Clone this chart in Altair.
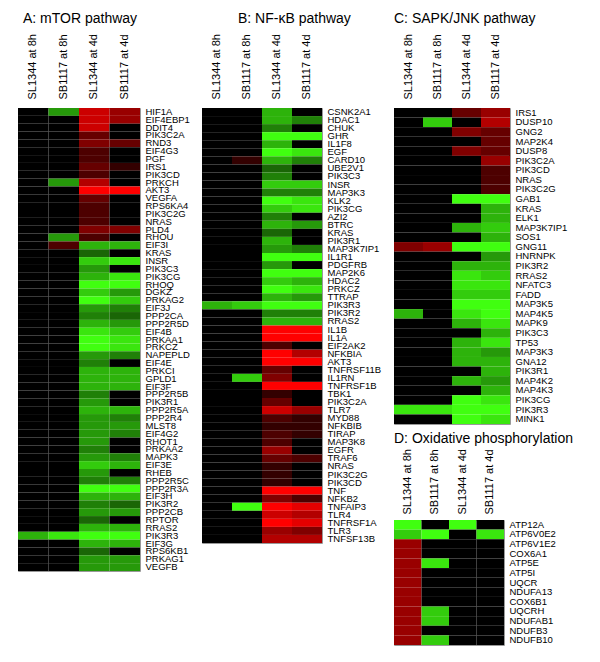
import altair as alt
import pandas as pd

samples = ["SL1344 at 8h", "SB1117 at 8h", "SL1344 at 4d", "SB1117 at 4d"]

# ---------------- Panel A: mTOR pathway ----------------
a_genes = ["HIF1A", "EIF4EBP1", "DDIT4", "PIK3C2A", "RND3", "EIF4G3", "PGF", "IRS1", "PIK3CD",
           "PRKCH", "AKT3", "VEGFA", "RPS6KA4", "PIK3C2G", "NRAS", "PLD4", "RHOU", "EIF3I",
           "KRAS", "INSR", "PIK3C3", "PIK3CG", "RHOQ", "DGKZ", "PRKAG2", "EIF3J", "PPP2CA",
           "PPP2R5D", "EIF4B", "PRKAA1", "PRKCZ", "NAPEPLD", "EIF4E", "PRKCI", "GPLD1", "EIF3F",
           "PPP2R5B", "PIK3R1", "PPP2R5A", "PPP2R4", "MLST8", "EIF4G2", "RHOT1", "PRKAA2",
           "MAPK3", "EIF3E", "RHEB", "PPP2R5C", "PPP2R3A", "EIF3H", "PIK3R2", "PPP2CB", "RPTOR",
           "RRAS2", "PIK3R3", "EIF3G", "RPS6KB1", "PRKAG1", "VEGFB"]
a_sl_8h = [0] * 54 + [-3.5] + [0] * 4
a_sb_8h = [-3, 0, 0, 0, 0, 0, 0, 0, 0, -3, 0, 0, 0, 0, 0, 0, -3, 1.5] + [0] * 36 + [-4.5] + [0] * 4
a_sl_4d = [4, 4, 4, 2, 2.5, 1.5, 1.5, 2, 1.5, 3.5, 5, 2, 1.5, 1.5, 1.5, 2.5, 1.5, -3.5,
           -2, -4, -3, -3.5, -5, -4, -5, -3, -2.5, -3.5, -4.5, -5, -5, -3, -2.5, -3.5, -3.5, -3.5,
           -2.5, -3, -3.5, -3, -3, -3, -3, -2.5, -3, -4, -3, -2.5, -5, -3.5, -2.5, -3, -2,
           -3.5, -5, -3.5, -2, -3, -3]
a_sb_4d = [3, 3, 0, 0, 2, 0, 0, 1, 0, 0, 5, 0, 0, 0, 0, 2.5, 0, -3.5,
           0, -4.5, 0, -4.5, -5, -3, -4, -2.5, -2, -3, -4, -4.5, -4.5, -2.5, 0, -3.5, -3.5, -3.5,
           0, 0, -3.5, -2.5, -3, -2.5, 0, 0, -2.5, -3.5, 0, -2.5, -5, -3.5, -2, -3, 0,
           -3.5, -5, -3.5, 0, -3, -3]

# ---------------- Panel B: NF-kB pathway ----------------
b_genes = ["CSNK2A1", "HDAC1", "CHUK", "GHR", "IL1F8", "EGF", "CARD10", "UBE2V1", "PIK3C3",
           "INSR", "MAP3K3", "KLK2", "PIK3CG", "AZI2", "BTRC", "KRAS", "PIK3R1", "MAP3K7IP1",
           "IL1R1", "PDGFRB", "MAP2K6", "HDAC2", "PRKCZ", "TTRAP", "PIK3R3", "PIK3R2", "RRAS2",
           "IL1B", "IL1A", "EIF2AK2", "NFKBIA", "AKT3", "TNFRSF11B", "IL1RN", "TNFRSF1B", "TBK1",
           "PIK3C2A", "TLR7", "MYD88", "NFKBIB", "TIRAP", "MAP3K8", "EGFR", "TRAF6", "NRAS",
           "PIK3C2G", "PIK3CD", "TNF", "NFKB2", "TNFAIP3", "TLR4", "TNFRSF1A", "TLR3", "TNFSF13B"]
b_sl_8h = [0] * 24 + [-3.5] + [0] * 29
b_sb_8h = [0] * 6 + [1] + [0] * 17 + [-4] + [0] * 8 + [-4] + [0] * 15 + [-5] + [0] * 4
b_sl_4d = [-3.5, -3.5, -2.5, -5, -3.5, -5, -3.5, -2, -2.5, -4, -2.5, -5, -4, -2.5, -3.5, -2,
           -3.5, -3, -5, -3, -5, -4, -5, -3.5, -5, -2.5, -3.5,
           5, 5, 1.5, 5, 5, 2, 2.5, 5, 1, 2, 4, 1.5, 1, 1.5, 1.5, 3, 2, 1, 1, 1,
           5, 2.5, 5, 4, 5, 3, 3.5]
b_sb_4d = [0, -2.5, 0, -5, 0, -4.5, -2.5, 0, 0, -4, -2.5, -4.5, -4.5, 0, -3, 0,
           0, -2.5, -5, 0, -5, -3.5, -4.5, -3, -5, -2.5, -3.5,
           5, 5, 0, 3.5, 5, 0, 0, 5, 0, 0, 3, 1, 1, 1, 0, 0, 1.5, 0, 0, 0,
           5, 1.5, 4.5, 3.5, 4.5, 2.5, 3.5]

# ---------------- Panel C: SAPK/JNK pathway ----------------
c_genes = ["IRS1", "DUSP10", "GNG2", "MAP2K4", "DUSP8", "PIK3C2A", "PIK3CD", "NRAS", "PIK3C2G",
           "GAB1", "KRAS", "ELK1", "MAP3K7IP1", "SOS1", "GNG11", "HNRNPK", "PIK3R2", "RRAS2",
           "NFATC3", "FADD", "MAP3K5", "MAP4K5", "MAPK9", "PIK3C3", "TP53", "MAP3K3", "GNA12",
           "PIK3R1", "MAP4K2", "MAP4K3", "PIK3CG", "PIK3R3", "MINK1"]
c_sl_8h = [0] * 14 + [2.5] + [0] * 6 + [-3.5] + [0] * 9 + [-4.5, 0]
c_sb_8h = [0, -4] + [0] * 12 + [3] + [0] * 16 + [-4.5, 0]
c_sl_4d = [2, 0, 2.5, 0, 2.5, 0, 0, 0, 0, -5, 0, 0, -3.5, 0, -5, 0, -3.5, -4.5,
           -4.5, -4, -5, -4.5, -3.5, 0, -3.5, -3.5, -3.5, 0, -3.5, 0, -5, -5, -5]
c_sb_4d = [3, 3.5, 2, 2, 2, 3, 1.5, 1.5, 1.5, -5, -3.5, -3.5, -4, -3.5, -5, -3, -3.5, -4,
           -4.5, -4, -5, -5, -4.5, -3.5, -4.5, -3, -3.5, -3.5, -3, -3.5, -4.5, -5, -4.5]

# ---------------- Panel D: Oxidative phosphorylation ----------------
d_genes = ["ATP12A", "ATP6V0E2", "ATP6V1E2", "COX6A1", "ATP5E", "ATP5I", "UQCR", "NDUFA13",
           "COX6B1", "UQCRH", "NDUFAB1", "NDUFB3", "NDUFB10"]
d_sl_8h = [-5, -4, 3, 3, 3, 3, 3, 3, 3, 3, 3, 3, 3]
d_sb_8h = [0, -5, 0, 0, -4.5, 0, 0, 0, 0, -4, -4, 0, -4]
d_sl_4d = [-5, 0, 0, 0, 0, 0, 0, 0, 0, 0, 0, 0, 0]
d_sb_4d = [0, -4.5, 0, 0, 0, 0, 0, 0, 0, 0, 0, 0, 0]

FONT = "Liberation Sans"
COLOR_SCALE = dict(domain=[-5, 0, 5], range=["#40ff10", "#000000", "#ff0000"], interpolate="rgb")


def panel(genes, v1, v2, v3, v4, title, w, h, dx, lab_pad=9, t_off=8):
    rows = []
    for g, a, b, c, d in zip(genes, v1, v2, v3, v4):
        for s, v in zip(samples, (a, b, c, d)):
            rows.append({"gene": g, "sample": s, "value": v})
    df = pd.DataFrame(rows)
    return alt.Chart(df).mark_rect().encode(
        x=alt.X("sample:N", sort=samples,
                axis=alt.Axis(orient="top", title=None, labelAngle=-90, ticks=False,
                              tickSize=0, domain=False, labelPadding=lab_pad, labelFontSize=11)),
        y=alt.Y("gene:N", sort=genes,
                axis=alt.Axis(orient="right", title=None, ticks=False, tickSize=0,
                              domain=False, labelPadding=5, labelFontSize=9.5,
                              labelOverlap=False)),
        color=alt.Color("value:Q", scale=alt.Scale(**COLOR_SCALE), legend=None),
    ).properties(
        width=w, height=h,
        title=alt.TitleParams(title, anchor="start", dx=dx, fontSize=14, offset=t_off,
                              fontWeight="normal", font=FONT, color="#000000"),
    )


pa = panel(a_genes, a_sl_8h, a_sb_8h, a_sl_4d, a_sb_4d, "A: mTOR pathway", 122, 463, 5)
pb = panel(b_genes, b_sl_8h, b_sb_8h, b_sl_4d, b_sb_4d, "B: NF-\u03baB pathway", 120, 435, 36)
pc = panel(c_genes, c_sl_8h, c_sb_8h, c_sl_4d, c_sb_4d, "C: SAPK/JNK pathway", 116, 316, 0)
pd_ = panel(d_genes, d_sl_8h, d_sb_8h, d_sl_4d, d_sb_4d, "D: Oxidative phosphorylation",
            110, 125, 0, lab_pad=6, t_off=3)

right = alt.vconcat(pc, pd_, spacing=6).resolve_scale(color="independent")

chart = alt.hconcat(
    pa, pb, right, spacing=11
).resolve_scale(
    color="independent"
).properties(
    padding={"left": 9, "top": 3, "right": 0, "bottom": 0}
).configure_view(
    stroke="#999999", strokeWidth=1
).configure_axis(
    labelFont=FONT, labelColor="#000000"
)

chart.save("out.html", embed_options={"renderer": "svg", "actions": False})
